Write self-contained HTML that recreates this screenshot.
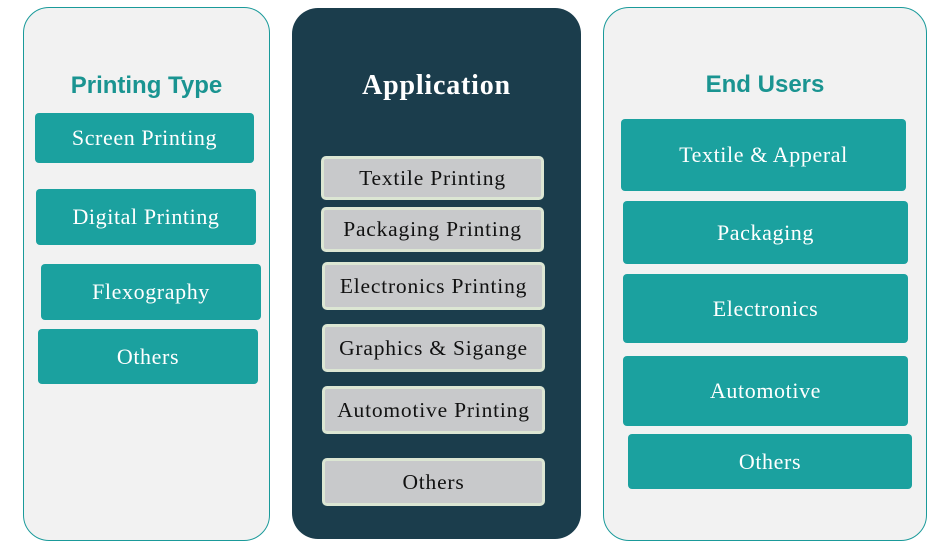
<!DOCTYPE html><html><head><style>
body{margin:0;width:946px;height:552px;background:#fff;position:relative;overflow:hidden}
div{position:absolute;box-sizing:border-box}
.p{border:1.5px solid #1a9a9a;background:#f2f2f2;border-radius:26px}
.t{font-family:"Liberation Sans",sans-serif;font-weight:bold;color:#1a9491;font-size:24px;text-align:center;line-height:30px}
.b{background:#1ba19f;border-radius:4px;color:#fff;font-family:"Liberation Serif",serif;font-size:22px;letter-spacing:0.6px;display:flex;align-items:center;justify-content:center}
.g{background:#c8c9cb;border:3px solid #dce6d3;border-radius:5px;color:#111;font-family:"Liberation Serif",serif;font-size:21.5px;letter-spacing:0.8px;display:flex;align-items:center;justify-content:center}
</style></head><body>
<div class="p" style="left:23px;top:7px;width:247px;height:534px"></div>
<div style="left:292px;top:8px;width:289px;height:531px;background:#1b3d4c;border-radius:26px"></div>
<div class="p" style="left:603px;top:7px;width:324px;height:534px"></div>
<div class="t" style="left:23px;top:71px;width:247px">Printing Type</div>
<div style="left:292px;top:70px;width:289px;text-align:center;color:#fff;font-family:'Liberation Serif',serif;font-weight:bold;font-size:28px;letter-spacing:0.8px;line-height:32px">Application</div>
<div class="t" style="left:603px;top:70px;width:324px">End Users</div>
<div class="b" style="left:35px;top:113px;width:219px;height:50px">Screen Printing</div>
<div class="b" style="left:36px;top:189px;width:220px;height:56px">Digital Printing</div>
<div class="b" style="left:41px;top:264px;width:220px;height:56px">Flexography</div>
<div class="b" style="left:38px;top:329px;width:220px;height:55px">Others</div>
<div class="g" style="left:321px;top:156px;width:223px;height:44px">Textile Printing</div>
<div class="g" style="left:321px;top:207px;width:223px;height:45px">Packaging Printing</div>
<div class="g" style="left:322px;top:262px;width:223px;height:48px">Electronics Printing</div>
<div class="g" style="left:322px;top:324px;width:223px;height:48px">Graphics &amp; Sigange</div>
<div class="g" style="left:322px;top:386px;width:223px;height:48px">Automotive Printing</div>
<div class="g" style="left:322px;top:458px;width:223px;height:48px">Others</div>
<div class="b" style="left:621px;top:119px;width:285px;height:72px">Textile &amp; Apperal</div>
<div class="b" style="left:623px;top:201px;width:285px;height:63px">Packaging</div>
<div class="b" style="left:623px;top:274px;width:285px;height:69px">Electronics</div>
<div class="b" style="left:623px;top:356px;width:285px;height:70px">Automotive</div>
<div class="b" style="left:628px;top:434px;width:284px;height:55px">Others</div>
</body></html>
